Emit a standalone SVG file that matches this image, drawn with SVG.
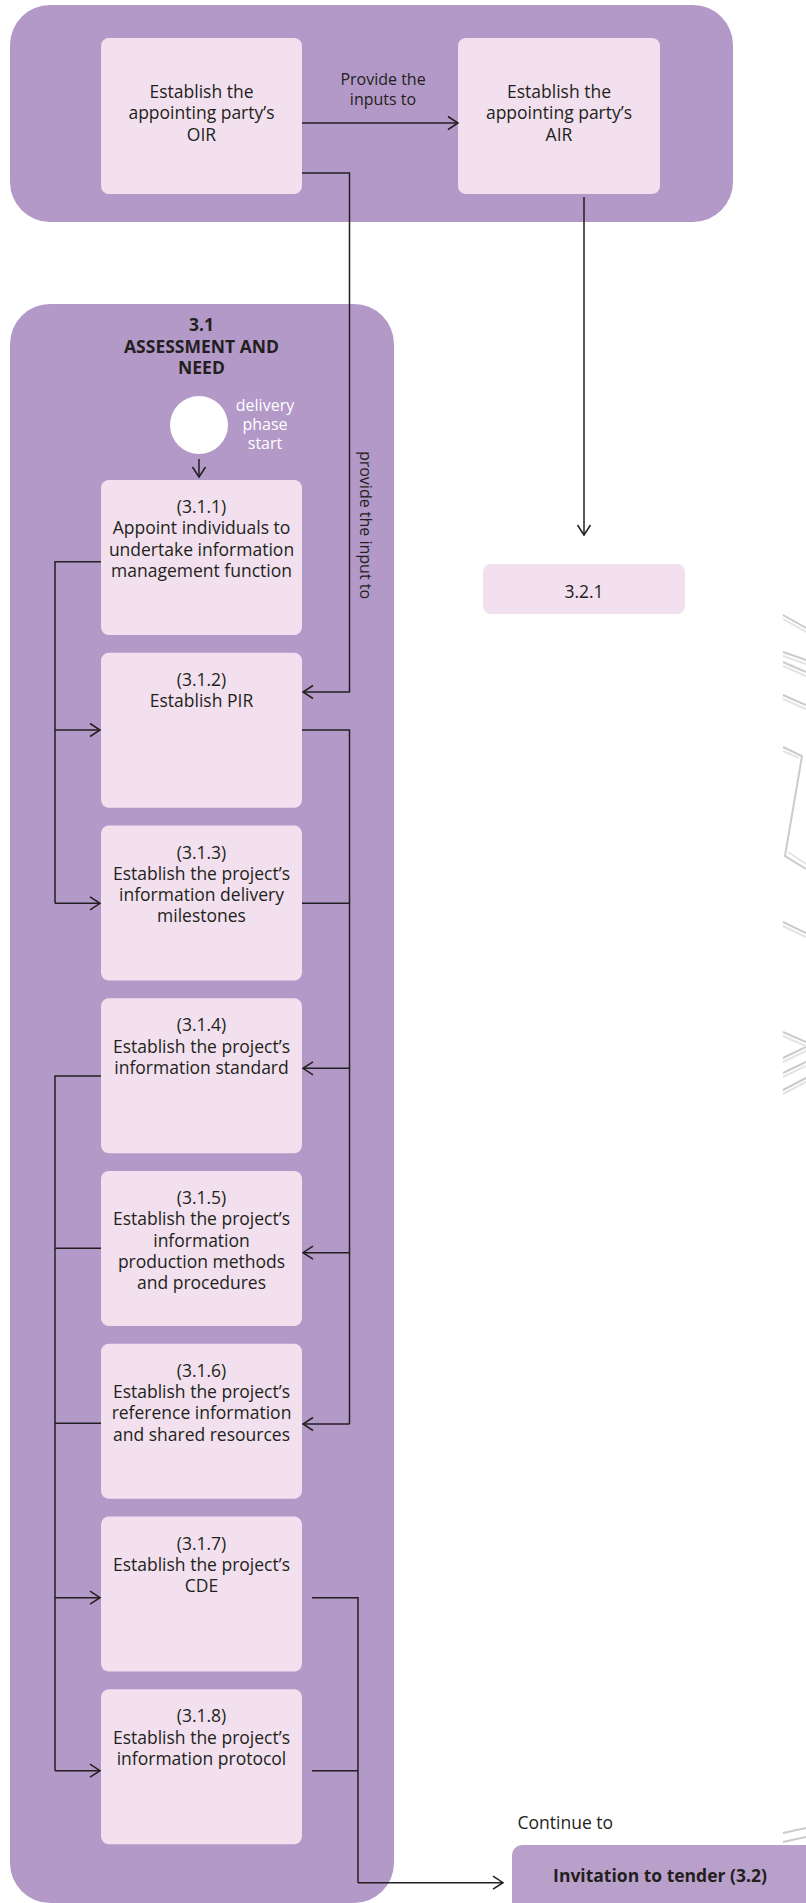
<svg xmlns="http://www.w3.org/2000/svg" width="806" height="1903" viewBox="0 0 806 1903">
<style>
.grp{fill:#b399c8}
.box{fill:#f2e0ee}
.t{font-family:"Open Sans","Noto Sans","Liberation Sans",sans-serif;font-size:17.5px;fill:#231f20;text-anchor:middle}
.b{font-weight:bold}
.s{font-size:16px}
.w{fill:#ffffff}
.c{fill:none;stroke:#231f20;stroke-width:1.5}
.ca{fill:none;stroke:#231f20;stroke-width:1.5;marker-end:url(#arr)}
.wm1{fill:none;stroke:#cbcbcb;stroke-width:2}
.wm2{fill:none;stroke:#e4e4e4;stroke-width:2}
</style>
<defs>
<marker id="arr" markerUnits="userSpaceOnUse" markerWidth="14" markerHeight="16" viewBox="0 0 14 16" refX="12" refY="8" orient="auto">
<path d="M2,1.5 L12,8 L2,14.5" fill="none" stroke="#231f20" stroke-width="1.5"/>
</marker>
</defs>
<rect width="806" height="1903" fill="#ffffff"/>

<g id="watermark">
<path class="wm1" d="M783,615 L806,628 M783,652 L806,660 M783,662 L806,672 M783,695 L806,705 M783,747 L802,756 L785,856 L806,869 M783,922 L806,933 M783,1032 L806,1042 M806,1047 L783,1058 M806,1062 L783,1073 M806,1078 L783,1090 M783,1833 L806,1828 M783,1842 L806,1837"/>
<path class="wm2" d="M783,619 L806,632 M783,656 L806,664 M783,666 L806,676 M783,699 L806,709 M783,751 L799,758 M788,852 L806,864 M783,926 L806,937 M783,1036 L806,1046 M806,1051 L783,1062 M806,1066 L783,1077 M806,1082 L783,1094"/>
</g>

<g id="group-top">
<rect class="grp" x="10" y="5" width="723" height="217" rx="40"/>
</g>

<g id="group-3-1">
<rect class="grp" x="10" y="304" width="384" height="1599" rx="40"/>
<text class="t b" x="201.5" y="331">3.1</text>
<text class="t b" x="201.5" y="352.5">ASSESSMENT AND</text>
<text class="t b" x="201.5" y="374">NEED</text>
</g>

<g id="node-oir">
<rect class="box" x="101" y="38" width="201" height="156" rx="8"/>
<text class="t" x="201.5" y="98">Establish the</text>
<text class="t" x="201.5" y="119.3">appointing party’s</text>
<text class="t" x="201.5" y="140.6">OIR</text>
</g>

<g id="node-air">
<rect class="box" x="458" y="38" width="202" height="156" rx="8"/>
<text class="t" x="559" y="98">Establish the</text>
<text class="t" x="559" y="119.3">appointing party’s</text>
<text class="t" x="559" y="140.6">AIR</text>
</g>

<g id="node-start">
<circle cx="199" cy="425" r="29" fill="#ffffff"/>
<text class="t s w" x="265" y="411">delivery</text>
<text class="t s w" x="265" y="430">phase</text>
<text class="t s w" x="265" y="449">start</text>
</g>

<g id="node-3-1-1">
<rect class="box" x="101" y="480" width="201" height="155" rx="8"/>
<text class="t" x="201.5" y="513">(3.1.1)</text>
<text class="t" x="201.5" y="534.3">Appoint individuals to</text>
<text class="t" x="201.5" y="555.6">undertake information</text>
<text class="t" x="201.5" y="576.9">management function</text>
</g>

<g id="node-3-1-2">
<rect class="box" x="101" y="652.75" width="201" height="155" rx="8"/>
<text class="t" x="201.5" y="685.75">(3.1.2)</text>
<text class="t" x="201.5" y="707.05">Establish PIR</text>
</g>

<g id="node-3-1-3">
<rect class="box" x="101" y="825.5" width="201" height="155" rx="8"/>
<text class="t" x="201.5" y="858.5">(3.1.3)</text>
<text class="t" x="201.5" y="879.8">Establish the project’s</text>
<text class="t" x="201.5" y="901.1">information delivery</text>
<text class="t" x="201.5" y="922.4">milestones</text>
</g>

<g id="node-3-1-4">
<rect class="box" x="101" y="998.25" width="201" height="155" rx="8"/>
<text class="t" x="201.5" y="1031.25">(3.1.4)</text>
<text class="t" x="201.5" y="1052.55">Establish the project’s</text>
<text class="t" x="201.5" y="1073.85">information standard</text>
</g>

<g id="node-3-1-5">
<rect class="box" x="101" y="1171" width="201" height="155" rx="8"/>
<text class="t" x="201.5" y="1204">(3.1.5)</text>
<text class="t" x="201.5" y="1225.3">Establish the project’s</text>
<text class="t" x="201.5" y="1246.6">information</text>
<text class="t" x="201.5" y="1267.9">production methods</text>
<text class="t" x="201.5" y="1289.2">and procedures</text>
</g>

<g id="node-3-1-6">
<rect class="box" x="101" y="1343.75" width="201" height="155" rx="8"/>
<text class="t" x="201.5" y="1376.75">(3.1.6)</text>
<text class="t" x="201.5" y="1398.05">Establish the project’s</text>
<text class="t" x="201.5" y="1419.35">reference information</text>
<text class="t" x="201.5" y="1440.65">and shared resources</text>
</g>

<g id="node-3-1-7">
<rect class="box" x="101" y="1516.5" width="201" height="155" rx="8"/>
<text class="t" x="201.5" y="1549.5">(3.1.7)</text>
<text class="t" x="201.5" y="1570.8">Establish the project’s</text>
<text class="t" x="201.5" y="1592.1">CDE</text>
</g>

<g id="node-3-1-8">
<rect class="box" x="101" y="1689.25" width="201" height="155" rx="8"/>
<text class="t" x="201.5" y="1722.25">(3.1.8)</text>
<text class="t" x="201.5" y="1743.55">Establish the project’s</text>
<text class="t" x="201.5" y="1764.85">information protocol</text>
</g>

<g id="node-3-2-1">
<rect class="box" x="483" y="564" width="202" height="50" rx="8"/>
<text class="t" x="584" y="598">3.2.1</text>
</g>

<g id="node-invitation">
<text class="t" x="517.5" y="1829" style="text-anchor:start">Continue to</text>
<rect x="512" y="1845" width="304" height="80" rx="10" fill="#b9a0cb"/>
<text class="t b" x="660" y="1882">Invitation to tender (3.2)</text>
</g>

<g id="connectors">
<path class="ca" d="M302,123 H458"/>
<text class="t s" x="383" y="84.5">Provide the</text>
<text class="t s" x="383" y="104.5">inputs to</text>
<path class="ca" d="M302,173 H349.5 V692 H303"/>
<text class="t s" transform="translate(360,525) rotate(90)" x="0" y="0">provide the input to</text>
<path class="ca" d="M584,197 V535"/>
<path class="ca" d="M199,459 V477"/>
<path class="c" d="M101,561.7 H55 V903.3"/>
<path class="ca" d="M55,730 H100"/>
<path class="ca" d="M55,903.3 H100"/>
<path class="c" d="M302,730 H349.5 V1424 M302,903.3 H349.5"/>
<path class="ca" d="M349.5,1068.3 H303"/>
<path class="ca" d="M349.5,1252.7 H303"/>
<path class="ca" d="M349.5,1424 H303"/>
<path class="c" d="M101,1076 H55 V1770.7 M101,1248.3 H55 M101,1423.3 H55"/>
<path class="ca" d="M55,1597.7 H100"/>
<path class="ca" d="M55,1770.7 H100"/>
<path class="c" d="M312,1597.7 H358 V1882.7 M312,1770.7 H358"/>
<path class="ca" d="M358,1882.7 H503"/>
</g>
</svg>
